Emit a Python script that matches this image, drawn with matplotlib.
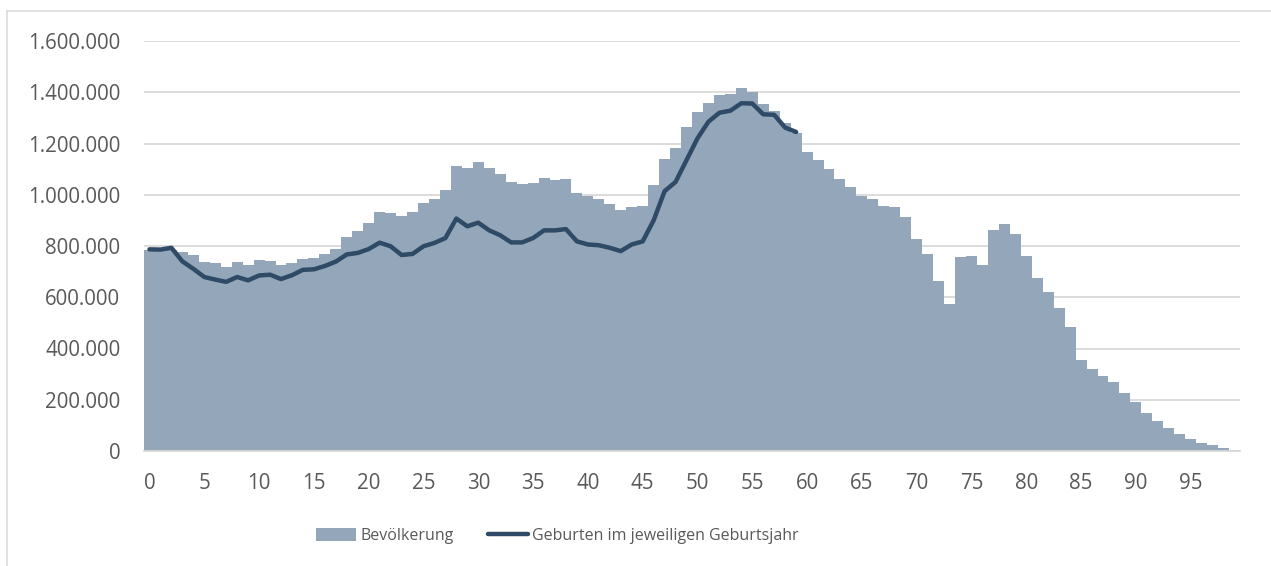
import numpy as np
import matplotlib
matplotlib.use("Agg")
import matplotlib.pyplot as plt
from matplotlib.ticker import FuncFormatter
from matplotlib.lines import Line2D

# Bevölkerung nach Alter (0-99)
ages = np.arange(100)
population = [
    783000, 781000, 785000, 775000, 766000, 739000, 735000, 718000, 736000, 726000,
    745000, 740000, 726000, 735000, 749000, 752000, 767000, 787000, 834000, 860000,
    890000, 932000, 928000, 917000, 934000, 966000, 985000, 1020000, 1114000, 1103000,
    1126000, 1103000, 1082000, 1049000, 1043000, 1044000, 1065000, 1056000, 1060000, 1007000,
    994000, 984000, 963000, 940000, 951000, 958000, 1037000, 1139000, 1181000, 1266000,
    1322000, 1357000, 1390000, 1394000, 1415000, 1400000, 1355000, 1328000, 1281000, 1240000,
    1165000, 1135000, 1099000, 1060000, 1032000, 994000, 984000, 958000, 953000, 914000,
    826000, 770000, 662000, 573000, 757000, 760000, 724000, 864000, 886000, 848000,
    760000, 677000, 622000, 560000, 482000, 355000, 320000, 291000, 270000, 227000,
    191000, 149000, 119000, 91000, 65000, 46000, 33000, 22000, 13000, 5000,
]
# Geburten im jeweiligen Geburtsjahr (Alter 0-59)
births = [
    787000, 786000, 793000, 740000, 711000, 679000, 669000, 660000, 679000, 666000,
    685000, 688000, 671000, 686000, 707000, 709000, 722000, 739000, 767000, 773000,
    788000, 813000, 799000, 765000, 769000, 799000, 812000, 831000, 907000, 877000,
    891000, 861000, 842000, 814000, 814000, 831000, 861000, 861000, 866000, 818000,
    806000, 803000, 793000, 780000, 806000, 818000, 900000, 1014000, 1050000, 1135000,
    1220000, 1285000, 1320000, 1328000, 1357000, 1356000, 1314000, 1312000, 1262000, 1245000,
]
xtick_labels = [str(a) for a in range(0, 100, 5)]

BAR_COLOR = "#94a7ba"
LINE_COLOR = "#2e4a66"
TEXT_COLOR = "#595959"
GRID_COLOR = "#d9d9d9"

plt.rcParams["font.family"] = ["Open Sans", "DejaVu Sans"]

fig = plt.figure(figsize=(12.71, 5.66), dpi=100)
ax = fig.add_axes([144 / 1271, 1 - 451 / 566, 1096 / 1271, 410 / 566])

bars = ax.bar(ages, population, width=1.0, color=BAR_COLOR, linewidth=0,
              antialiased=False, zorder=2, label="Bevölkerung")
line, = ax.plot(ages[:len(births)], births, color=LINE_COLOR, lw=3.2,
                solid_joinstyle="round", solid_capstyle="round", zorder=3,
                label="Geburten im jeweiligen Geburtsjahr")

ax.set_xlim(-0.5, 99.5)
ax.set_ylim(0, 1600000)
ax.set_yticks(np.arange(0, 1600001, 200000))
ax.yaxis.set_major_formatter(FuncFormatter(lambda v, p: f"{int(v):,}".replace(",", ".")))
ax.set_xticks(np.arange(0, 100, 5))
ax.set_xticklabels(xtick_labels)

ax.grid(axis="y", color=GRID_COLOR, lw=1.3, zorder=0)
ax.set_axisbelow(True)
for s in ["top", "right", "left"]:
    ax.spines[s].set_visible(False)
ax.spines["bottom"].set_color(GRID_COLOR)
ax.spines["bottom"].set_linewidth(1.3)
ax.tick_params(axis="both", length=0, labelsize=14.8, labelcolor=TEXT_COLOR)
ax.tick_params(axis="y", pad=17)
ax.tick_params(axis="x", pad=16)

# chart border (top and left edge)
fig.add_artist(Line2D([7 / 1271, 1.0], [1 - 11 / 566] * 2, color=GRID_COLOR, lw=1.1))
fig.add_artist(Line2D([7 / 1271] * 2, [0.0, 1 - 11 / 566], color=GRID_COLOR, lw=1.1))

fig.legend([bars, line], ["Bevölkerung", "Geburten im jeweiligen Geburtsjahr"],
           loc="center", bbox_to_anchor=(557.5 / 1271, 1 - 536 / 566), ncol=2,
           frameon=False, fontsize=11.5,
           labelcolor=TEXT_COLOR, handlelength=2.5, handleheight=0.875,
           handletextpad=0.31, columnspacing=2.1, borderpad=0)

fig.savefig("out.png", dpi=100)
